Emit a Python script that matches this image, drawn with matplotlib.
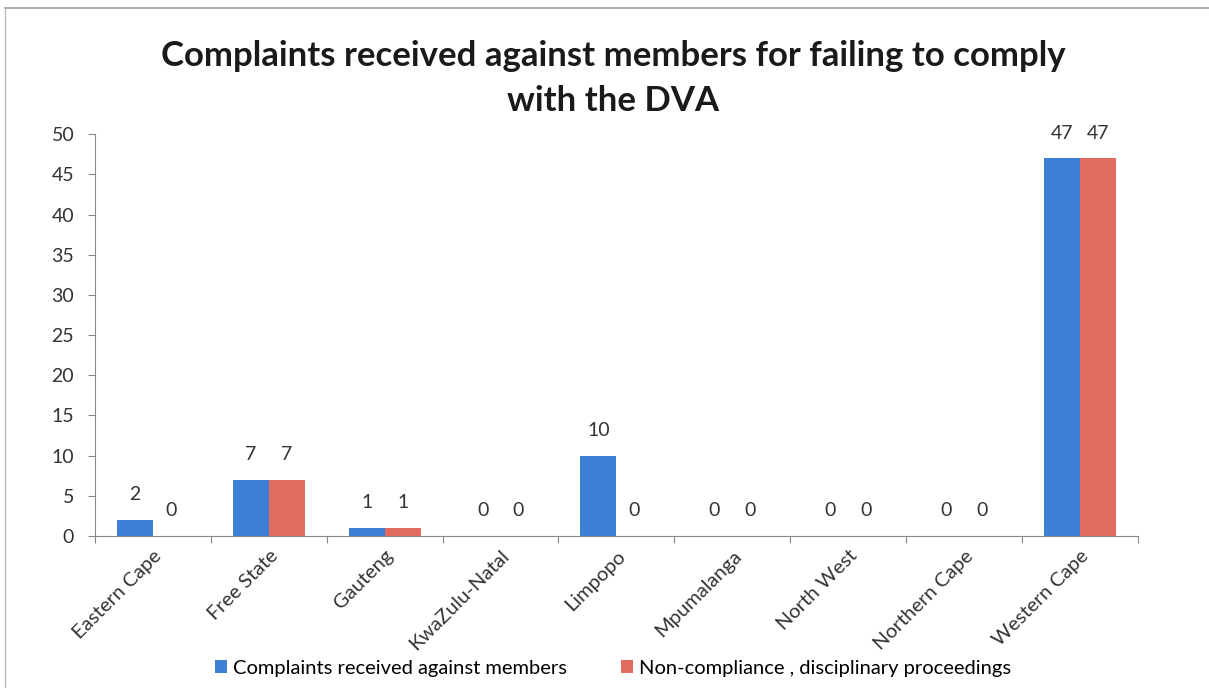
import numpy as np
import matplotlib.pyplot as plt

plt.rcParams['font.family'] = ['Lato', 'DejaVu Sans']

provinces = ["Eastern Cape", "Free State", "Gauteng", "KwaZulu-Natal", "Limpopo",
             "Mpumalanga", "North West", "Northern Cape", "Western Cape"]
complaints = [2, 7, 1, 0, 10, 0, 0, 0, 47]
non_compliance = [0, 7, 1, 0, 0, 0, 0, 0, 47]
series_names = ["Complaints received against members",
                "Non-compliance , disciplinary proceedings"]
blue = "#3b80d4"
red = "#e06b5e"

fig = plt.figure(figsize=(12.09, 6.88), dpi=100)
ax = fig.add_axes([0.0786, 0.221, 0.8625, 0.584])

x = np.arange(len(provinces))
w = 0.31
b1 = ax.bar(x - w / 2, complaints, w, color=blue, label=series_names[0])
b2 = ax.bar(x + w / 2, non_compliance, w, color=red, label=series_names[1])

for bars in (b1, b2):
    for rect in bars:
        h = rect.get_height()
        ax.annotate(f"{h:g}", (rect.get_x() + rect.get_width() / 2, h),
                    xytext=(0, 12), textcoords="offset points",
                    ha="center", va="bottom", fontsize=14, color="#333333")

ax.set_xlim(-0.5, len(provinces) - 0.5)
ax.set_ylim(0, 50)
ax.set_yticks(range(0, 51, 5))
ax.set_xticks(np.arange(-0.5, len(provinces), 1.0))
ax.set_xticklabels([])
ax.set_xticks(x, minor=True)
ax.set_xticklabels(provinces, minor=True, rotation=45, ha="right",
                   rotation_mode="anchor", fontsize=14.5, color="#333333")
ax.tick_params(axis="x", which="minor", length=0, pad=8)
ax.tick_params(axis="x", which="major", length=5, color="#888888")
ax.tick_params(axis="y", length=5, color="#888888", labelsize=14,
               labelcolor="#333333", pad=10)
for side in ("top", "right"):
    ax.spines[side].set_visible(False)
for side in ("left", "bottom"):
    ax.spines[side].set_color("#888888")

fig.suptitle("Complaints received against members for failing to comply\nwith the DVA",
             x=0.507, y=0.942, fontsize=25, fontweight="bold", color="#1a1a1a",
             linespacing=1.5)

fig.legend(handles=[b1, b2], loc="center", bbox_to_anchor=(0.507, 0.029), ncol=2,
           frameon=False, fontsize=14.5, handlelength=0.6, handleheight=0.6,
           handletextpad=0.3, columnspacing=2.7)

# scanned page frame
fig.add_artist(plt.Line2D([0.004, 1.0], [0.988, 0.988], color="#999999", lw=1.2))
fig.add_artist(plt.Line2D([0.004, 0.004], [0.0, 0.988], color="#bbbbbb", lw=1.0))

fig.savefig("out.png", dpi=100)
